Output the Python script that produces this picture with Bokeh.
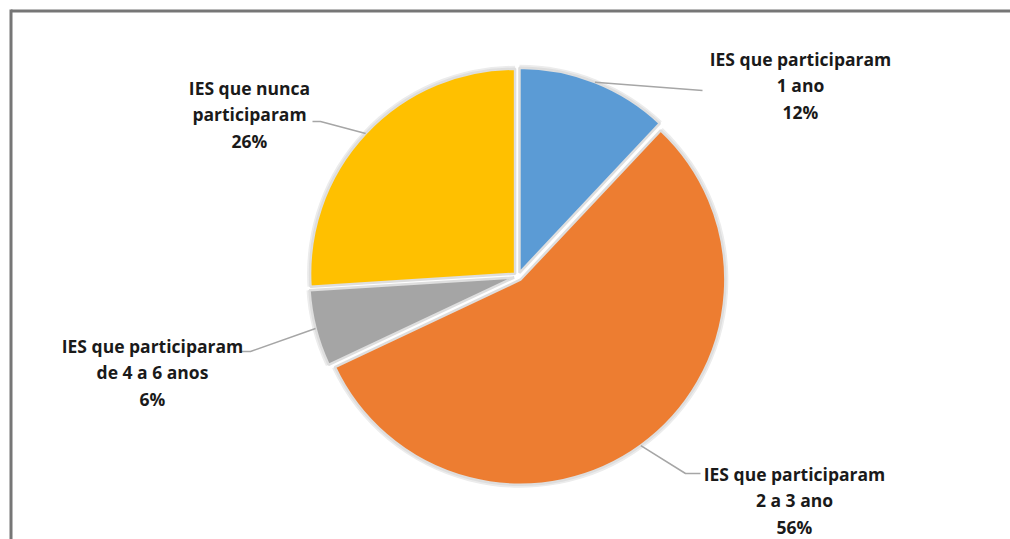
import numpy as np
from bokeh.plotting import figure
from bokeh.models import Range1d, ColumnDataSource
from bokeh.core.properties import value
from bokeh.embed import file_html
from bokeh.resources import INLINE

# ---- data ----
labels = ["IES que participaram\n1 ano",
          "IES que participaram\n2 a 3 ano",
          "IES que participaram\nde 4 a 6 anos",
          "IES que nunca\nparticiparam"]
values = [12, 56, 6, 26]
colors = ["#5b9bd5", "#ed7d31", "#a5a5a5", "#ffc000"]

# ---- layout ----
W, H = 1010, 539
def P(x, y):
    return x, H - y

cx, cy = P(517.5, 276)
R = 205
EXPLODE = 4

# label middle-line centres (page coords) and leader elbow/end points
label_pos = [P(800, 85), P(794, 500), P(152, 372), P(249, 114)]
leader_ends = [[P(702, 90)], [P(685, 473), P(700, 473)],
               [P(250, 351), P(240, 351)], [P(320, 121), P(312, 121)]]

p = figure(width=W, height=H, x_range=Range1d(0, W), y_range=Range1d(0, H),
           output_backend="svg", toolbar_location=None, min_border=0)
p.axis.visible = False
p.grid.visible = False
p.outline_line_color = None
p.background_fill_color = "white"
p.border_fill_color = "white"

vals = np.array(values, dtype=float)
frac = vals / vals.sum()
cum_end = np.cumsum(frac)
cum_start = cum_end - frac
start = np.pi / 2 - cum_start * 2 * np.pi
end = np.pi / 2 - cum_end * 2 * np.pi
mid = (start + end) / 2
xs = cx + EXPLODE * np.cos(mid)
ys = cy + EXPLODE * np.sin(mid)

src = ColumnDataSource(dict(x=xs, y=ys, start=start, end=end, color=colors))

# soft shadow
p.wedge(x="x", y="y", radius=R + 3, start_angle="start", end_angle="end",
        direction="clock", source=src, fill_color="#ececec", line_color=None)
p.wedge(x="x", y="y", radius=R, start_angle="start", end_angle="end",
        direction="clock", source=src, fill_color="color",
        line_color="#dedede", line_width=2.5)

# leader lines
for i in range(len(values)):
    sx = cx + (R + EXPLODE) * np.cos(mid[i])
    sy = cy + (R + EXPLODE) * np.sin(mid[i])
    pts = [(sx, sy)] + leader_ends[i]
    p.line([q[0] for q in pts], [q[1] for q in pts], line_color="#a6a6a6", line_width=1.5)

# labels
txt = [f"{l}\n{v}%" for l, v in zip(labels, values)]
p.text(x=[q[0] for q in label_pos], y=[q[1] for q in label_pos], text=txt,
       text_align="center", text_baseline="middle",
       text_font=value("Open Sans"), text_font_style="bold",
       text_font_size="17.5px", text_line_height=1.1, text_color="#1a1a1a")

# frame (top and left edges)
fx, fy = P(10.5, 10.5)
p.line([fx, W], [fy, fy], line_color="#767676", line_width=3)
p.line([fx, fx], [fy + 1.5, 0], line_color="#767676", line_width=3)

open("out.html", "w").write(file_html(p, INLINE))
